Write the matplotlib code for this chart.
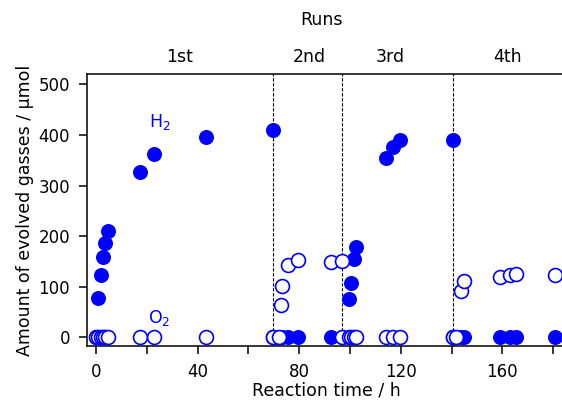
import numpy as np
import matplotlib
matplotlib.use("Agg")
from matplotlib import pyplot as plt
from matplotlib.transforms import blended_transform_factory

# reaction time (h), evolved H2 and O2 (umol), one list per run
t_run1 = [0, 0.7, 1.9, 2.6, 3.6, 4.9, 17.4, 23.0, 43.4, 69.7]
h2_run1 = [0, 78, 123, 159, 186, 211, 327, 362, 396, 409]
o2_run1 = [0, 0, 0, 0, 0, 0, 0, 0, 0, 0]

t_run2 = [69.7, 71.9, 72.8, 73.2, 75.5, 79.6, 92.4, 96.8]
h2_run2 = [0, 0, 0, 0, 0, 0, 0, 0]
o2_run2 = [0, 0, 65, 102, 144, 152, 149, 151]

t_run3 = [96.8, 99.8, 100.5, 101.5, 102.2, 114.3, 117.0, 119.9, 140.5]
h2_run3 = [0, 76, 107, 154, 178, 354, 377, 390, 390]
o2_run3 = [0, 0, 0, 0, 0, 0, 0, 0, 0]

t_run4 = [140.5, 141.6, 143.6, 144.9, 159.1, 163.0, 165.3, 180.7]
h2_run4 = [0, 0, 0, 0, 0, 0, 0, 0]
o2_run4 = [0, 0, 91, 112, 119, 123, 125, 124]

run_starts = [69.7, 96.9, 140.5]
run_labels = ["1st", "2nd", "3rd", "4th"]
run_label_pos = [33, 84, 116, 162]

plt.rcParams['font.family'] = ['DejaVu Sans']

fig = plt.figure(figsize=(5.62, 4.01), dpi=100)
ax = fig.add_axes([0.1553, 0.137, 0.852, 0.678])

t_all = t_run1 + t_run2 + t_run3 + t_run4
h2_all = h2_run1 + h2_run2 + h2_run3 + h2_run4
o2_all = o2_run1 + o2_run2 + o2_run3 + o2_run4

# dashed lines where a new run starts
for x in run_starts:
    ax.axvline(x, color='black', linestyle=(0, (3, 1.5)), linewidth=0.8, zorder=1)

ax.plot(t_all, h2_all, 'o', color='blue', markersize=10.8, markeredgewidth=0, zorder=3, clip_on=False)
ax.plot(t_all, o2_all, 'o', markerfacecolor='white', markeredgecolor='blue',
        markersize=10, markeredgewidth=1.2, zorder=4, clip_on=False)

ax.text(25, 425, 'H$_2$', color='blue', fontsize=12.5, ha='center', va='center')
ax.text(25, 38, 'O$_2$', color='blue', fontsize=12.5, ha='center', va='center')

ax.set_xlim(-3.4, 185.1)
ax.set_ylim(-17, 520)
ax.set_xticks(np.arange(0, 181, 20))
ax.set_xticklabels([str(v) if v % 40 == 0 else '' for v in range(0, 181, 20)])
ax.set_yticks(np.arange(0, 501, 100))

for s in ax.spines.values():
    s.set_linewidth(1.1)
ax.tick_params(direction='out', length=5.5, width=1.1, labelsize=12)
ax.tick_params(axis='x', pad=6.5)
ax.tick_params(axis='y', pad=7)

ax.set_xlabel('Reaction time / h', fontsize=12.5, labelpad=0.5)
ax.set_ylabel('Amount of evolved gasses / μmol', fontsize=12.5, labelpad=3)

trans = blended_transform_factory(ax.transData, ax.transAxes)
for lab, pos in zip(run_labels, run_label_pos):
    ax.text(pos, 1.0625, lab, transform=trans, ha='center', va='center', fontsize=12.5)
fig.text(322 / 562, 1 - 20 / 401, 'Runs', ha='center', va='center', fontsize=12.5)

fig.savefig('out.png', dpi=100)
